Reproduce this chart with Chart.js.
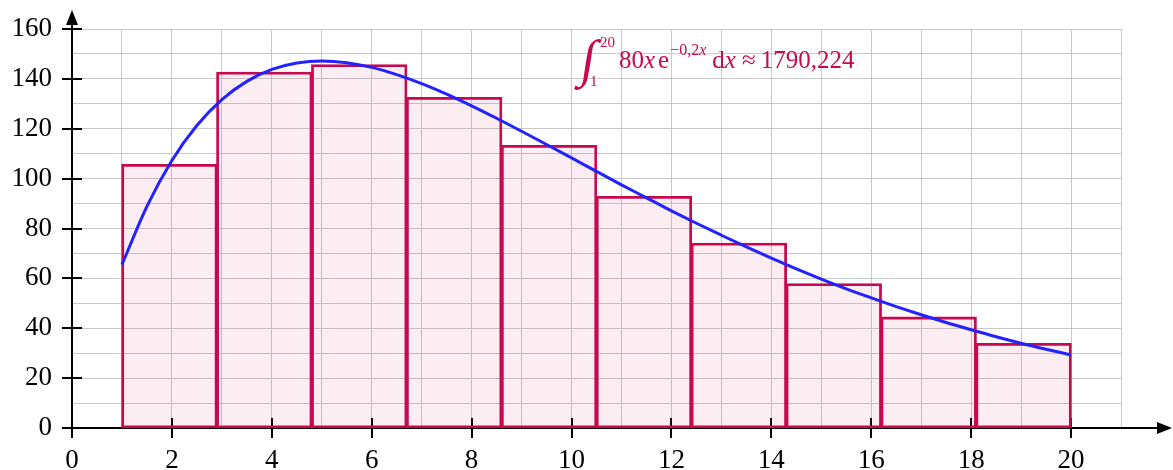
<!DOCTYPE html>
<html><head><meta charset="utf-8">
<script src="https://cdn.jsdelivr.net/npm/chart.js@4"></script>
<style>html,body{margin:0;padding:0;background:#fff;} #wrap{width:1173px;height:470px;position:relative;}</style>
</head><body><div id="wrap"><canvas id="c"></canvas></div>
<script>
// ---- data ----
const xTickValues = [0, 2, 4, 6, 8, 10, 12, 14, 16, 18, 20];
const xTickLabels = ['0', '2', '4', '6', '8', '10', '12', '14', '16', '18', '20'];
const yTickValues = [0, 20, 40, 60, 80, 100, 120, 140, 160];
const yTickLabels = ['0', '20', '40', '60', '80', '100', '120', '140', '160'];
// rectangles: centre of each rectangle (width 1.9) and its height
const rectCenters = [1.95, 3.85, 5.75, 7.65, 9.55, 11.45, 13.35, 15.25, 17.15, 19.05];
const rectHeights = [105.6, 142.6, 145.6, 132.5, 113.2, 92.8, 74.0, 57.8, 44.4, 33.8];
// curve
const curveX = [1, 1.5, 2, 2.5, 3, 3.5, 4, 4.5, 5, 5.5, 6, 6.5, 7, 7.5, 8, 8.5, 9, 9.5, 10, 10.5,
                11, 11.5, 12, 12.5, 13, 13.5, 14, 14.5, 15, 15.5, 16, 16.5, 17, 17.5, 18, 18.5, 19, 19.5, 20];
const curveY = [65.5, 88.9, 107.3, 121.3, 131.7, 139.0, 143.8, 146.4, 147.2, 146.5, 144.6, 141.7, 138.1, 133.9,
                129.2, 124.2, 119.0, 113.7, 108.3, 102.9, 97.5, 92.3, 87.1, 82.1, 77.3, 72.6, 68.1, 63.8,
                59.7, 55.8, 52.2, 48.7, 45.4, 42.3, 39.4, 36.6, 34.0, 31.6, 29.3];
const integralLower = '1';
const integralUpper = '20';
const integralResult = '1790,224';

// ---- styles ----
const CRIMSON = '#c8084f';
const SERIF = '"Liberation Serif", "DejaVu Serif", serif';

const axesPlugin = {
  id: 'axes',
  beforeDatasetsDraw(chart) {
    const {ctx, scales: {x, y}} = chart;
    const x0 = x.getPixelForValue(0), y0 = y.getPixelForValue(0);
    const xEnd = x.right + 51, yEnd = y.top - 19;
    ctx.save();
    ctx.strokeStyle = '#000'; ctx.fillStyle = '#000'; ctx.lineWidth = 2;
    ctx.beginPath();
    ctx.moveTo(x0, y0); ctx.lineTo(xEnd - 13, y0);
    ctx.moveTo(x0, y0); ctx.lineTo(x0, yEnd + 13);
    ctx.stroke();
    // arrow heads
    ctx.beginPath();
    ctx.moveTo(xEnd, y0); ctx.lineTo(xEnd - 15, y0 - 6); ctx.lineTo(xEnd - 15, y0 + 6); ctx.closePath(); ctx.fill();
    ctx.beginPath();
    ctx.moveTo(x0, yEnd); ctx.lineTo(x0 - 6, yEnd + 15); ctx.lineTo(x0 + 6, yEnd + 15); ctx.closePath(); ctx.fill();
    // ticks
    ctx.beginPath();
    xTickValues.forEach(v => { const p = Math.round(x.getPixelForValue(v)); ctx.moveTo(p, y0 - 10); ctx.lineTo(p, y0 + 10); });
    yTickValues.forEach(v => { const p = Math.round(y.getPixelForValue(v)); ctx.moveTo(x0 - 10, p); ctx.lineTo(x0 + 10, p); });
    ctx.stroke();
    ctx.restore();
  }
};

const annotationPlugin = {
  id: 'integral',
  afterDatasetsDraw(chart) {
    const ctx = chart.ctx;
    ctx.save();
    ctx.fillStyle = CRIMSON;
    ctx.textBaseline = 'alphabetic';
    // integral sign (slightly slanted)
    ctx.save();
    ctx.translate(586, 76);
    ctx.transform(1, 0, -0.16, 1, 0, 0);
    ctx.font = '52px ' + SERIF;
    ctx.textAlign = 'center';
    ctx.fillText('∫', 0, 0);
    ctx.restore();
    ctx.font = '15px ' + SERIF;
    ctx.fillText(integralUpper, 600, 47);
    ctx.fillText(integralLower, 590, 86);
    let px = 619; const base = 68;
    const put = (txt, font, dy) => { ctx.font = font; ctx.fillText(txt, px, base + (dy || 0)); px += ctx.measureText(txt).width; };
    const R = '25px ' + SERIF, I = 'italic 25px ' + SERIF, SR = '16px ' + SERIF, SI = 'italic 16px ' + SERIF;
    put('80', R); put('x', I); px += 3; put('e', R); px += 1;
    put('−0,2', SR, -13); put('x', SI, -13); px += 6;
    put('d', R); put('x', I); px += 6;
    put('≈', R); px += 5;
    put(integralResult, R);
    ctx.restore();
  }
};

new Chart(document.getElementById('c'), {
  type: 'line',
  data: {
    datasets: [
      {
        type: 'line',
        data: curveX.map((v, i) => ({x: v, y: curveY[i]})),
        borderColor: '#2222ff', borderWidth: 3, pointRadius: 0,
        cubicInterpolationMode: 'monotone', fill: false, order: 0
      },
      {
        type: 'bar',
        data: rectCenters.map((v, i) => ({x: v, y: rectHeights[i]})),
        backgroundColor: 'rgba(200,8,79,0.075)', borderColor: CRIMSON,
        borderWidth: 1.4, inflateAmount: 0.7, borderSkipped: false, grouped: false,
        // bars span 1.9 tick intervals (ticks every 1 unit)
        categoryPercentage: 1, barPercentage: 1.9, order: 1
      }
    ]
  },
  options: {
    responsive: true, maintainAspectRatio: false, animation: false,
    layout: {padding: {left: 0, right: 52, top: 29, bottom: 0}},
    plugins: {legend: {display: false}, tooltip: {enabled: false}},
    scales: {
      x: {
        type: 'linear', min: 0, max: 21, offset: false,
        grid: {color: '#c9c9c9', lineWidth: 1, drawTicks: false, offset: false},
        border: {display: false},
        ticks: {
          stepSize: 1, autoSkip: false, maxRotation: 0, padding: 17, color: '#000',
          font: {family: SERIF, size: 27},
          callback: v => { const i = xTickValues.indexOf(v); return i >= 0 ? xTickLabels[i] : ''; }
        },
        afterFit: s => { s.height = 42; s.paddingLeft = 0; s.paddingRight = 0; s.paddingTop = 0; s.paddingBottom = 0; }
      },
      y: {
        type: 'linear', min: 0, max: 160,
        grid: {color: '#c9c9c9', lineWidth: 1, drawTicks: false},
        border: {display: false},
        ticks: {
          stepSize: 10, autoSkip: false, padding: 20, color: '#000',
          font: {family: SERIF, size: 27},
          callback: v => { const i = yTickValues.indexOf(v); return i >= 0 ? yTickLabels[i] : ''; }
        },
        afterFit: s => { s.width = 72; s.paddingTop = 0; s.paddingBottom = 0; s.paddingLeft = 0; s.paddingRight = 0; }
      }
    }
  },
  plugins: [axesPlugin, annotationPlugin]
});
</script>
</body></html>
